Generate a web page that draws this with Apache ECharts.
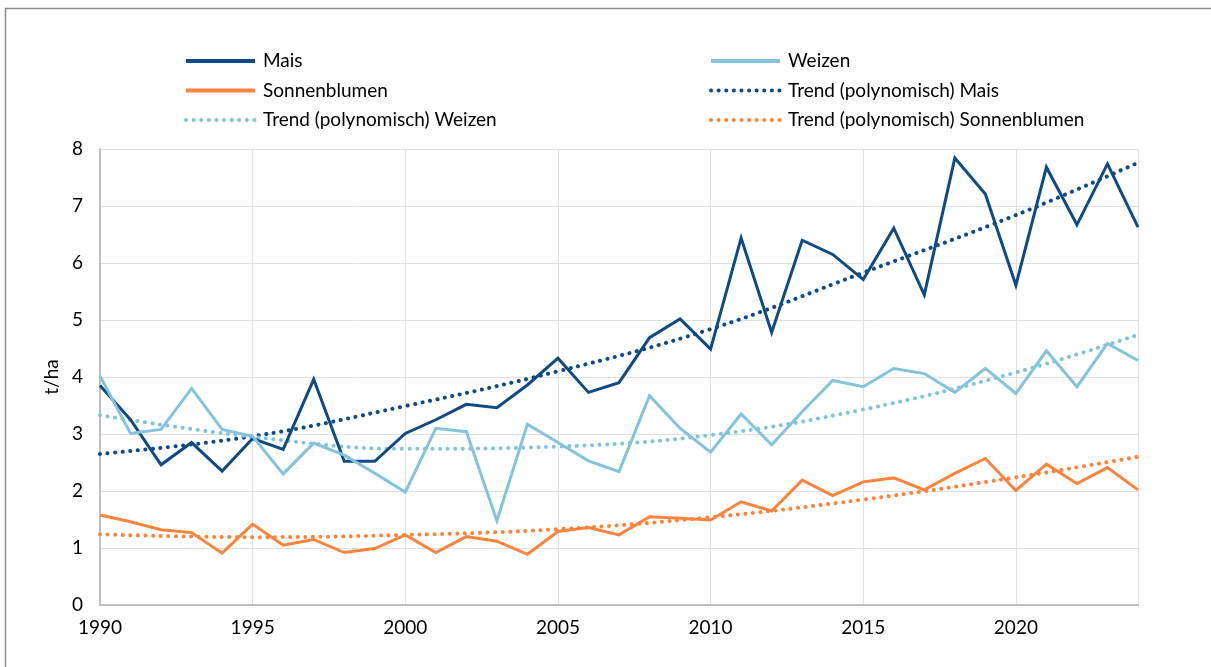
<!DOCTYPE html>
<html lang="de">
<head>
    <meta charset="UTF-8">
    <title>Erträge Mais, Weizen, Sonnenblumen</title>
    <script src="https://cdn.jsdelivr.net/npm/echarts@6/dist/echarts.min.js"></script>
    <style>
        html, body { margin: 0; padding: 0; background: #fff; }
        #chart { width: 1211px; height: 667px; }
    </style>
</head>
<body>
    <div id="chart"></div>
    <script>
        // Jahre 1990-2024
        const years = [];
        for (let y = 1990; y <= 2024; y++) years.push(y);

        const mais = [3.85, 3.25, 2.46, 2.85, 2.35, 2.92, 2.73, 3.96, 2.52, 2.52,
                      3.01, 3.25, 3.52, 3.46, 3.86, 4.33, 3.73, 3.90, 4.69, 5.02,
                      4.49, 6.44, 4.78, 6.40, 6.15, 5.71, 6.61, 5.44, 7.84, 7.21,
                      5.61, 7.68, 6.67, 7.74, 6.63];
        const weizen = [4.02, 3.01, 3.08, 3.80, 3.08, 2.96, 2.30, 2.84, 2.63, 2.31,
                        1.98, 3.10, 3.04, 1.48, 3.17, 2.85, 2.53, 2.34, 3.67, 3.10,
                        2.68, 3.35, 2.81, 3.39, 3.94, 3.83, 4.15, 4.06, 3.73, 4.15,
                        3.71, 4.46, 3.83, 4.59, 4.29];
        const sonnenblumen = [1.58, 1.46, 1.32, 1.27, 0.91, 1.42, 1.05, 1.15, 0.92, 0.99,
                              1.23, 0.92, 1.20, 1.12, 0.89, 1.29, 1.36, 1.23, 1.55, 1.52,
                              1.49, 1.81, 1.65, 2.19, 1.92, 2.16, 2.23, 2.02, 2.31, 2.57,
                              2.01, 2.47, 2.13, 2.41, 2.02];

        const trendYears = [1990, 1995, 2000, 2005, 2010, 2015, 2020, 2024];
        const trendMais = [2.65, 2.96, 3.49, 4.10, 4.84, 5.83, 6.84, 7.76];
        const trendWeizen = [3.33, 2.95, 2.74, 2.78, 2.98, 3.43, 4.08, 4.74];
        const trendSonnenblumen = [1.24, 1.19, 1.23, 1.33, 1.54, 1.85, 2.24, 2.60];

        const colMais = '#0e4a86';
        const colWeizen = '#83c3dc';
        const colSonne = '#fb843c';

        const pairs = (xs, vs) => xs.map((x, i) => [x, vs[i]]);

        const font = 'Lato, "Open Sans", sans-serif';

        function solid(name, color, values) {
            return {
                name: name, type: 'line', data: pairs(years, values),
                symbol: 'none', z: 3,
                lineStyle: { color: color, width: 3, join: 'miter' },
                itemStyle: { color: color }
            };
        }
        function trend(name, color, values) {
            return {
                name: name, type: 'line', data: pairs(trendYears, values),
                symbol: 'none', smooth: 0.4, z: 2,
                lineStyle: { color: color, width: 4, type: [0.1, 7.5], cap: 'round' },
                itemStyle: { color: color }
            };
        }

        const chart = echarts.init(document.getElementById('chart'));
        const legendBase = {
            orient: 'vertical', top: 46, itemWidth: 69, itemHeight: 14, itemGap: 9.5,
            itemStyle: { opacity: 0 },
            lineStyle: { width: 4 },
            textStyle: { fontFamily: font, fontSize: 19, lineHeight: 20, color: '#000', padding: [0, 0, 0, 3] }
        };
        chart.setOption({
            animation: false,
            graphic: [{
                type: 'rect', silent: true,
                shape: { x: 5.5, y: 8.5, width: 1220, height: 680 },
                style: { fill: 'none', stroke: '#8c8c8c', lineWidth: 1.5 }
            }],
            legend: [
                Object.assign({ left: 179, data: ['Mais', 'Sonnenblumen', 'Trend (polynomisch) Weizen'] }, legendBase),
                Object.assign({ left: 704, data: ['Weizen', 'Trend (polynomisch) Mais', 'Trend (polynomisch) Sonnenblumen'] }, legendBase)
            ],
            grid: { left: 100, right: 73, top: 149, bottom: 62, containLabel: false },
            xAxis: {
                type: 'value', min: 1990, max: 2024, interval: 5,
                axisLine: { show: true, lineStyle: { color: '#bfbfbf', width: 2 } },
                axisTick: { show: false },
                axisLabel: { fontFamily: font, fontSize: 19, color: '#000', margin: 13,
                             showMaxLabel: false, formatter: v => String(v) },
                splitLine: { show: true, lineStyle: { color: '#e0e0e0', width: 1 } }
            },
            yAxis: {
                type: 'value', min: 0, max: 8, interval: 1,
                name: 't/ha', nameLocation: 'middle', nameGap: 38, nameRotate: 90,
                nameTextStyle: { fontFamily: font, fontSize: 19, color: '#000' },
                axisLine: { show: true, lineStyle: { color: '#bfbfbf', width: 2 } },
                axisTick: { show: false },
                axisLabel: { fontFamily: font, fontSize: 19, color: '#000', margin: 17 },
                splitLine: { show: true, lineStyle: { color: '#e0e0e0', width: 1 } }
            },
            series: [
                solid('Mais', colMais, mais),
                solid('Weizen', colWeizen, weizen),
                solid('Sonnenblumen', colSonne, sonnenblumen),
                trend('Trend (polynomisch) Mais', colMais, trendMais),
                trend('Trend (polynomisch) Weizen', colWeizen, trendWeizen),
                trend('Trend (polynomisch) Sonnenblumen', colSonne, trendSonnenblumen)
            ]
        });

        window.addEventListener('resize', function() { chart.resize(); });
    </script>
</body>
</html>
